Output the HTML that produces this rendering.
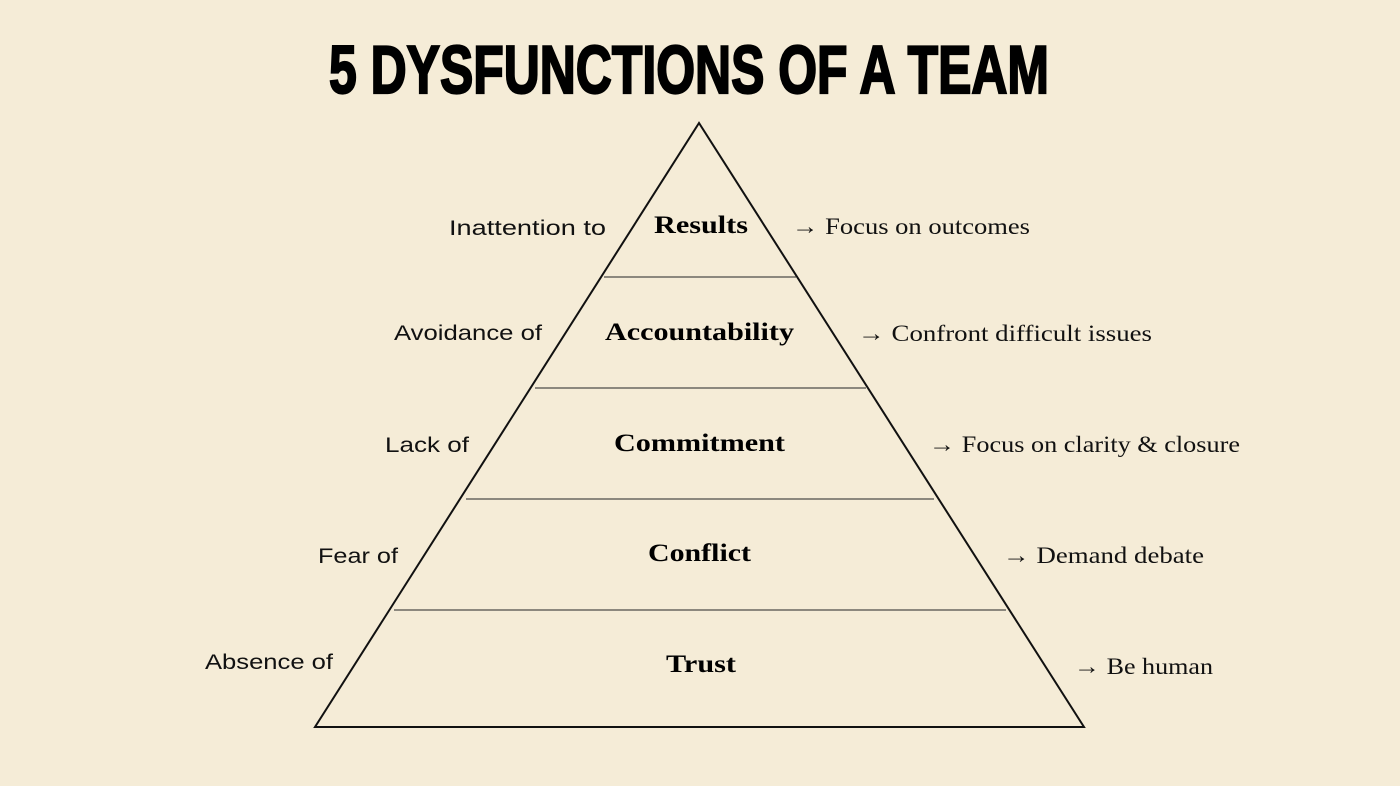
<!DOCTYPE html>
<html><head><meta charset="utf-8"><style>
html,body{margin:0;padding:0;background:#f5ecd7;}
svg{display:block}
.t{font-family:"Liberation Sans Narrow","Liberation Sans",sans-serif;font-weight:bold;font-size:68px;fill:#000;stroke:#000;stroke-width:2.2px}
.l{font-family:"Liberation Sans",sans-serif;font-size:21px;fill:#111}
.c{font-family:"Liberation Serif",serif;font-weight:bold;font-size:25px;fill:#000}
.r{font-family:"Liberation Serif",serif;font-size:23px;fill:#111}
</style></head><body>
<svg width="1400" height="786" viewBox="0 0 1400 786" xmlns="http://www.w3.org/2000/svg">
<rect width="1400" height="786" fill="#f5ecd7"/>
<text class="t" x="329" y="93" textLength="720" lengthAdjust="spacingAndGlyphs">5 DYSFUNCTIONS OF A TEAM</text>
<g stroke="#6a6660" stroke-width="1.6">
<line x1="604" y1="277" x2="796" y2="277"/>
<line x1="535" y1="388" x2="866" y2="388"/>
<line x1="466" y1="499" x2="934" y2="499"/>
<line x1="394" y1="610" x2="1006" y2="610"/>
</g>
<polygon points="699,123 315,727 1084,727" fill="none" stroke="#111" stroke-width="2"/>
<text class="l" x="449" y="235" textLength="157" lengthAdjust="spacingAndGlyphs">Inattention to</text>
<text class="l" x="394" y="340" textLength="148" lengthAdjust="spacingAndGlyphs">Avoidance of</text>
<text class="l" x="385" y="452" textLength="84" lengthAdjust="spacingAndGlyphs">Lack of</text>
<text class="l" x="318" y="563" textLength="80" lengthAdjust="spacingAndGlyphs">Fear of</text>
<text class="l" x="205" y="669" textLength="128" lengthAdjust="spacingAndGlyphs">Absence of</text>
<text class="c" x="654" y="233" textLength="94" lengthAdjust="spacingAndGlyphs">Results</text>
<text class="c" x="605" y="340" textLength="189" lengthAdjust="spacingAndGlyphs">Accountability</text>
<text class="c" x="614" y="451" textLength="171" lengthAdjust="spacingAndGlyphs">Commitment</text>
<text class="c" x="648" y="561" textLength="103" lengthAdjust="spacingAndGlyphs">Conflict</text>
<text class="c" x="666" y="672" textLength="70" lengthAdjust="spacingAndGlyphs">Trust</text>
<text class="r" x="792" y="234" textLength="238" lengthAdjust="spacingAndGlyphs">→ Focus on outcomes</text>
<text class="r" x="858" y="341" textLength="294" lengthAdjust="spacingAndGlyphs">→ Confront difficult issues</text>
<text class="r" x="929" y="452" textLength="311" lengthAdjust="spacingAndGlyphs">→ Focus on clarity &amp; closure</text>
<text class="r" x="1003" y="563" textLength="201" lengthAdjust="spacingAndGlyphs">→ Demand debate</text>
<text class="r" x="1074" y="674" textLength="139" lengthAdjust="spacingAndGlyphs">→ Be human</text>
</svg>
</body></html>
